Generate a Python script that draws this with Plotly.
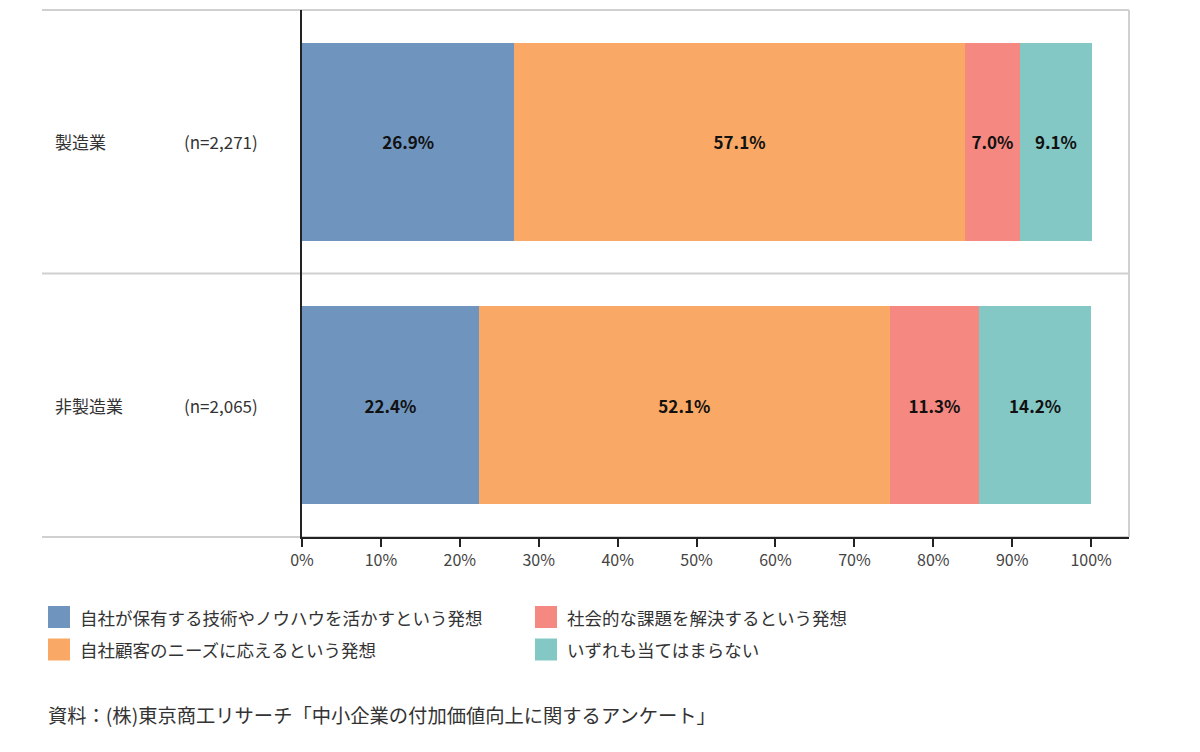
import plotly.graph_objects as go

# data
categories = ["製造業", "非製造業"]
sample_sizes = ["(n=2,271)", "(n=2,065)"]
series_names = [
    "自社が保有する技術やノウハウを活かすという発想",
    "自社顧客のニーズに応えるという発想",
    "社会的な課題を解決するという発想",
    "いずれも当てはまらない",
]
values_own_tech = [26.9, 22.4]
values_customer = [57.1, 52.1]
values_social = [7.0, 11.3]
values_none = [9.1, 14.2]
tick_values = [0, 10, 20, 30, 40, 50, 60, 70, 80, 90, 100]
tick_labels = ["0%", "10%", "20%", "30%", "40%", "50%", "60%", "70%", "80%", "90%", "100%"]
source_text = "資料：(株)東京商工リサーチ「中小企業の付加価値向上に関するアンケート」"

colors = ["#6F95BF", "#F9A965", "#F58880", "#84C8C6"]
FONT = "Noto Sans CJK JP"

# page puts the figure 8px in from the top-left corner
OFF = 8
W, H = 1200 - OFF, 752 - OFF
L, R, T, B = 302 - OFF, 1129 - OFF, 10 - OFF, 537 - OFF
pw, ph = R - L, B - T
def px(x):
    return (x - OFF - L) / pw
def py(y):
    return (B - (y - OFF)) / ph

fig = go.Figure()
all_values = [values_own_tech, values_customer, values_social, values_none]
for name, vals, col in zip(series_names, all_values, colors):
    fig.add_trace(go.Bar(
        y=categories, x=vals, name=name, orientation="h",
        marker=dict(color=col, line=dict(width=0)),
        texttemplate="<b>%{x:.1f}%</b>", textposition="inside",
        insidetextanchor="middle",
        textfont=dict(family=FONT, size=17, color="#111111"),
        constraintext="none", showlegend=False,
    ))

shapes = []
# gray frame lines
for yy in [10, 273.5, 537]:
    shapes.append(dict(type="line", xref="paper", yref="paper",
                       x0=px(42), x1=1, y0=py(yy), y1=py(yy),
                       line=dict(color="#D0D0D0", width=2), layer="below"))
shapes.append(dict(type="line", xref="paper", yref="paper",
                   x0=1, x1=1, y0=0, y1=1,
                   line=dict(color="#D0D0D0", width=2), layer="below"))

annotations = []
# left category labels
for cat, n in zip(categories, sample_sizes):
    annotations.append(dict(x=px(53), y=cat, xref="paper", yref="y", text=cat,
                            showarrow=False, xanchor="left",
                            font=dict(family=FONT, size=17, color="#333333")))
    annotations.append(dict(x=px(182), y=cat, xref="paper", yref="y", text=n,
                            showarrow=False, xanchor="left",
                            font=dict(family=FONT, size=17, color="#333333")))

# custom legend (two columns, column-major)
legend_pos = [(48, 617), (48, 649.5), (535, 617), (535, 649.5)]
for name, col, (lx, ly) in zip(series_names, colors, legend_pos):
    shapes.append(dict(type="rect", xref="paper", yref="paper",
                       x0=px(lx), x1=px(lx + 22), y0=py(ly - 11), y1=py(ly + 11),
                       fillcolor=col, line=dict(width=0)))
    annotations.append(dict(x=px(lx + 30), y=py(ly), xref="paper", yref="paper",
                            text=name, showarrow=False, xanchor="left", yanchor="middle",
                            font=dict(family=FONT, size=17.5, color="#333333")))

annotations.append(dict(x=px(46), y=py(715), xref="paper", yref="paper",
                        text=source_text, showarrow=False, xanchor="left", yanchor="middle",
                        font=dict(family=FONT, size=19.3, color="#333333")))

fig.update_layout(
    width=W, height=H, barmode="stack", bargap=0.25,
    margin=dict(l=L, r=W - R, t=T, b=H - B, pad=0),
    paper_bgcolor="white", plot_bgcolor="white",
    font=dict(family=FONT, size=16, color="#444444"),
    shapes=shapes, annotations=annotations,
    xaxis=dict(range=[0, 104.8], tickvals=tick_values, ticktext=tick_labels,
               showgrid=False, zeroline=False, showline=True, linecolor="#222222",
               linewidth=1.5, ticks="outside", ticklen=8, tickcolor="#222222",
               tickwidth=1.5, tickfont=dict(family=FONT, size=16, color="#444444")),
    yaxis=dict(categoryorder="array", categoryarray=categories, autorange="reversed",
               showticklabels=False, showgrid=False, zeroline=False, showline=True,
               linecolor="#222222", linewidth=1.5, ticks=""),
)

fig.write_html("out.html")
